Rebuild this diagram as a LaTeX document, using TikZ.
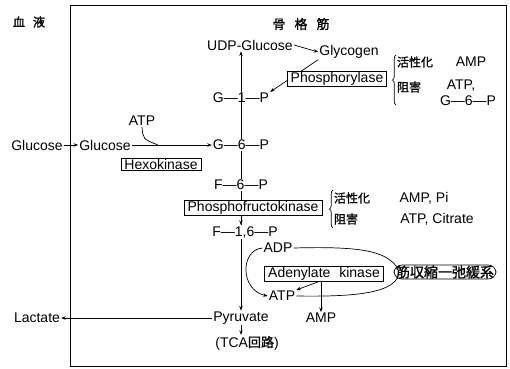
\documentclass[tikz,border=0pt]{standalone}
\usepackage{fontspec}
\setmainfont{Liberation Sans}
\newfontfamily\jp{Noto Sans CJK JP}[FakeBold=1.2]
\usepackage{tikz}
\usetikzlibrary{arrows.meta, decorations.pathreplacing}
\newcommand{\jsmall}{\jp\fontsize{12}{14}\selectfont}

\tikzset{
  enzyme/.style={draw, fill=white, line width=0.7pt, inner xsep=3.5pt, inner ysep=1pt},
  flow/.style={-{Stealth[length=4.5pt,width=3.5pt]}, line width=0.7pt},
  link/.style={line width=0.7pt},
  regbrace/.style={decorate, decoration={brace, amplitude=3.5pt}, line width=0.7pt}
}

\begin{document}
\begin{tikzpicture}[x=1pt, y=-1pt, inner sep=1pt, font=\fontsize{14}{16}\selectfont]
    \useasboundingbox (0,0) rectangle (510,368);
    \draw[link] (70,5) rectangle (506,366);

    % headings
    \node (blood) at (29,22) {\jsmall 血\hspace{8pt}液};
    \node (muscleh) at (301,24) {\jp\fontsize{13}{15}\selectfont 骨\hspace{9pt}格\hspace{9pt}筋};

    % glycogen branch
    \node (udp) at (250,45) {UDP-Glucose};
    \node (glyc) at (349,52) {Glycogen};
    \node (g1p) at (241,98) {G---1---P};

    % hexokinase step
    \node (atph) at (142,121) {ATP};
    \node (glcout) at (37,145) {Glucose};
    \node (glcin) at (105,145) {Glucose};
    \node (g6p) at (241,145) {G---6---P};
    \node[enzyme] (hexo) at (161,164) {Hexokinase};
    \node (f6p) at (241,185) {F---6---P};
    \node (f16p) at (245,232) {F---1,6---P};
    \coordinate (atpjoin) at (158,145);

    % lower part
    \node (adp) at (278,248) {ADP};
    \node (atpm) at (282,296) {ATP};
    \node (amp) at (321,318) {AMP};
    \node (pyr) at (241,318) {Pyruvate};
    \node (lact) at (37,318) {Lactate};
    \node (tca) at (247,343) {(TCA{\jp\fontsize{13}{15}\selectfont 回路})};
    \node[draw, line width=0.7pt, rounded corners=8pt, inner xsep=2pt, inner ysep=0.5pt] (muscle) at (445,272)
      {\jp\fontsize{14}{15}\selectfont 筋収縮一弛緩系};

    % regulation notes
    \node (act1) at (415,62) {\jsmall 活性化};
    \node (amp1) at (471,62) {AMP};
    \node (inh1) at (409,87) {\jsmall 阻害};
    \node (atp1) at (461,86) {ATP,};
    \node (g6pinh) at (468,101) {G---6---P};
    \node (act2) at (352,198) {\jsmall 活性化};
    \node (amp2) at (424,198) {AMP, Pi};
    \node (inh2) at (346,219) {\jsmall 阻害};
    \node (atp2) at (437,219) {ATP, Citrate};
    \draw[regbrace] (396,105) -- (396,55);
    \draw[regbrace] (333,228) -- (333,190);

    % connectors
    \draw[flow] (g6p.north) -- (udp.south -| g6p.north);
    \draw[flow] (udp.east) -- (glyc.west);
    \draw[flow] (glyc.south west) -- (g1p.north east);
    \node[enzyme] (phos) at (337,79) {Phosphorylase};
    \draw[flow] (glcout.east) -- (glcin.west);
    \draw[flow] (glcin.east) -- (g6p.west);
    \draw[link] (atph.south) .. controls (143,139) .. (atpjoin);
    \draw[link] (g6p.south) -- (f6p.north -| g6p.south);
    \draw[link] (f6p.south -| g6p.south) -- (f16p.north -| g6p.south);
    \node[enzyme] (pfk) at (253,208) {Phosphofructokinase};
    \draw[flow] (pfk.south -| g6p.south) -- (f16p.north -| g6p.south);
    \draw[flow] (f16p.south -| g6p.south) -- (pyr.north -| g6p.south);
    \draw[flow] (pyr.west) -- (lact.east);
    \draw[flow] (pyr.south) -- (tca.north -| pyr.south);
    \draw[flow] (adp.west) .. controls (240,250) and (240,290) .. (atpm.west);
    \draw[link] (adp.east) .. controls (365,246) and (385,252) .. ([xshift=3pt,yshift=-2pt]muscle.north west);
    \draw[link] (atpm.east) .. controls (360,297) and (390,292) .. ([xshift=4pt,yshift=2pt]muscle.south west);
    \node[enzyme] (ak) at (324,274) {Adenylate\hspace{5pt} kinase};
    \draw[flow] ([xshift=-6pt]ak.south) -- (atpm.north east);
    \draw[flow] (ak.south -| amp.north) -- (amp.north);
\end{tikzpicture}
\end{document}
